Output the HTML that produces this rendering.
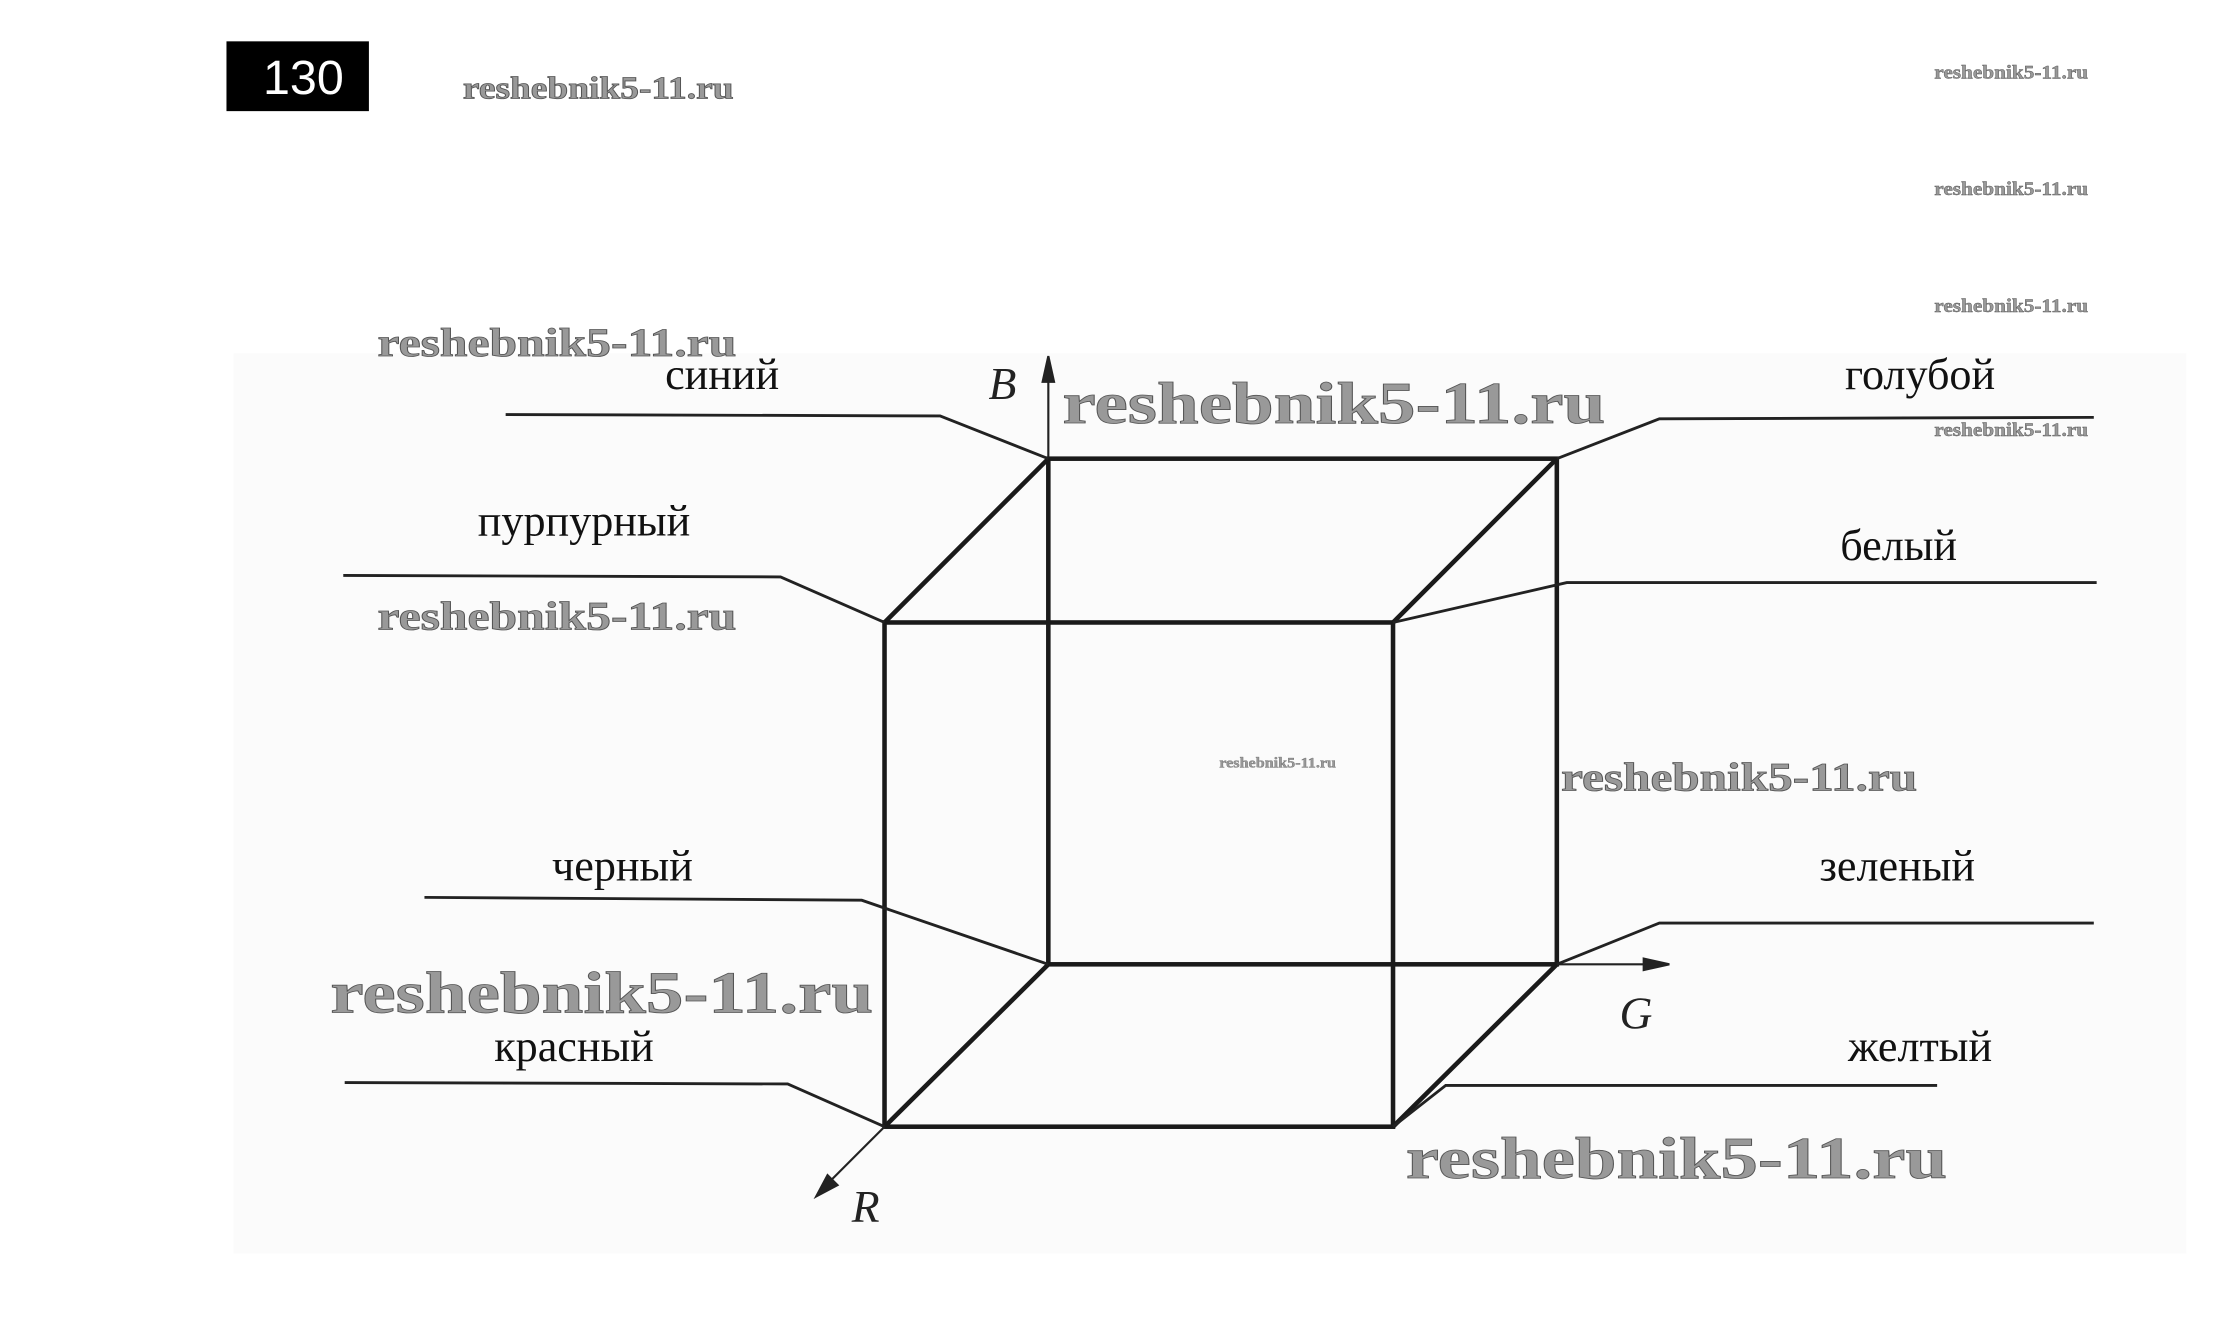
<!DOCTYPE html>
<html><head><meta charset="utf-8"><style>
html,body{margin:0;padding:0;background:#fff}
svg{display:block}
.t{font-family:"Liberation Serif",serif;font-size:31px;fill:#111}
.w{font-family:"Liberation Serif",serif;font-weight:bold;fill:#999;stroke:#555;stroke-width:0.6}
.l{stroke:#222;stroke-width:2;fill:none}
.c{stroke:#1a1a1a;stroke-width:3.2;fill:none}
</style></head><body>
<svg width="2222" height="1325" viewBox="0 0 1560 930.2" xmlns="http://www.w3.org/2000/svg">
<rect x="164" y="248" width="1371" height="632" fill="#fbfbfb"/>
<rect x="159" y="29" width="100" height="49" fill="#000"/>
<text x="213" y="66" text-anchor="middle" font-family="Liberation Sans,sans-serif" font-size="34" fill="#fff">130</text>
<g class="w" lengthAdjust="spacingAndGlyphs">
<text x="325" y="69" font-size="22" textLength="190" lengthAdjust="spacingAndGlyphs">reshebnik5-11.ru</text>
<text x="1358" y="55" font-size="13" stroke-width="0.3" textLength="108" lengthAdjust="spacingAndGlyphs">reshebnik5-11.ru</text>
<text x="1358" y="137" font-size="13" stroke-width="0.3" textLength="108" lengthAdjust="spacingAndGlyphs">reshebnik5-11.ru</text>
<text x="1358" y="219" font-size="13" stroke-width="0.3" textLength="108" lengthAdjust="spacingAndGlyphs">reshebnik5-11.ru</text>
<text x="1358" y="306" font-size="13" stroke-width="0.3" textLength="108" lengthAdjust="spacingAndGlyphs">reshebnik5-11.ru</text>
<text x="856" y="539" font-size="10" stroke-width="0.2" textLength="82" lengthAdjust="spacingAndGlyphs">reshebnik5-11.ru</text>
</g>
<g class="c">
<rect x="736" y="322" width="357" height="355"/>
<rect x="621" y="437" width="357" height="354"/>
<line x1="736" y1="322" x2="621" y2="437"/><line x1="1093" y1="322" x2="978" y2="437"/>
<line x1="736" y1="677" x2="621" y2="791"/><line x1="1093" y1="677" x2="978" y2="791"/>
</g>
<g stroke="#222" stroke-width="1.5" fill="#222">
<line x1="736" y1="322" x2="736" y2="256"/><polygon points="736,250 732,268 740,268"/>
<line x1="1093" y1="677" x2="1164" y2="677"/><polygon points="1172,677 1154,673 1154,681"/>
<line x1="621" y1="791" x2="578" y2="834"/><polygon points="573,840 588,832 581,825"/>
</g>
<g font-family="Liberation Serif,serif" font-style="italic" font-size="32" fill="#222">
<text x="694" y="280">B</text><text x="1137" y="722">G</text><text x="598" y="858">R</text>
</g>
<g class="l">
<polyline points="355,291 660,292 736,322"/>
<polyline points="241,404 548,405 621,437"/>
<polyline points="298,630 605,632 736,677"/>
<polyline points="242,760 553,761 621,791"/>
<polyline points="1093,322 1165,294 1470,293"/>
<polyline points="978,437 1100,409 1472,409"/>
<polyline points="1093,677 1165,648 1470,648"/>
<polyline points="978,791 1015,762 1360,762"/>
</g>
<g class="t" text-anchor="middle">
<text x="507" y="273">синий</text>
<text x="410" y="376">пурпурный</text>
<text x="437" y="618">черный</text>
<text x="403" y="745">красный</text>
<text x="1348" y="273">голубой</text>
<text x="1333" y="393">белый</text>
<text x="1332" y="618">зеленый</text>
<text x="1348" y="745">желтый</text>
</g>
<g class="w">
<text x="265" y="250" font-size="28" textLength="252" lengthAdjust="spacingAndGlyphs">reshebnik5-11.ru</text>
<text x="746" y="297" font-size="42" textLength="381" lengthAdjust="spacingAndGlyphs">reshebnik5-11.ru</text>
<text x="265" y="442" font-size="28" textLength="252" lengthAdjust="spacingAndGlyphs">reshebnik5-11.ru</text>
<text x="1096" y="555" font-size="28" textLength="250" lengthAdjust="spacingAndGlyphs">reshebnik5-11.ru</text>
<text x="232" y="711" font-size="42" textLength="381" lengthAdjust="spacingAndGlyphs">reshebnik5-11.ru</text>
<text x="987" y="827" font-size="42" textLength="380" lengthAdjust="spacingAndGlyphs">reshebnik5-11.ru</text>
</g>
</svg>
</body></html>
